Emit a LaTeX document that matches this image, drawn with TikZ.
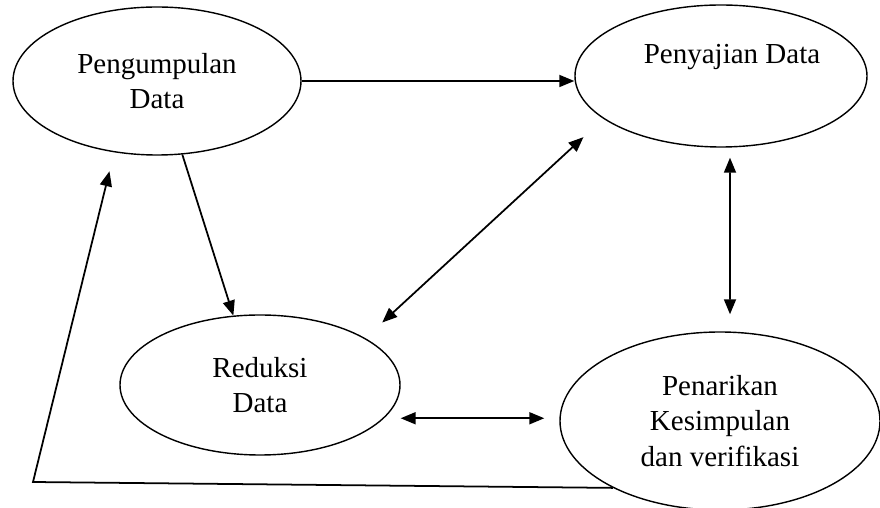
\documentclass[tikz,border=0pt]{standalone}
\usepackage{fontspec}
\setmainfont{Liberation Serif}
\usetikzlibrary{shapes.geometric, arrows.meta}

\begin{document}
\begin{tikzpicture}[
	proses/.style={draw, ellipse, line width=0.8pt, inner sep=0pt, align=center, font=\fontsize{16.5}{20}\selectfont},
	teks/.style={font=\fontsize{16.5}{20}\selectfont},
	panah/.style={line width=1pt, -{Triangle[length=0.3cm, width=0.24cm]}},
	panahdua/.style={line width=1pt, {Triangle[length=0.3cm, width=0.24cm]}-{Triangle[length=0.3cm, width=0.24cm]}}
]
		\useasboundingbox (0,0) rectangle (17.6,10.16);

		\node (kumpul)[proses, minimum width=5.76cm, minimum height=2.96cm] at (3.14,8.54) {Pengumpulan\\Data};
		\node (saji)[proses, minimum width=5.84cm, minimum height=2.84cm] at (14.42,8.64) {};
		\node (sajiteks)[teks] at (14.64,9.02) {Penyajian Data};
		\node (reduksi)[proses, minimum width=5.6cm, minimum height=2.8cm] at (5.2,2.46) {Reduksi\\Data};
		\node (tarik)[proses, minimum width=6.4cm, minimum height=3.56cm] at (14.4,1.74) {Penarikan\\Kesimpulan\\dan verifikasi};
		\coordinate (sudut) at (0.66,0.52);

		\draw[panah] (kumpul.east) -- (kumpul.east -| saji.west);
		\draw[panah] (kumpul.-71) -- (reduksi.111);
		\draw[panahdua, shorten <=0.46cm, shorten >=0.54cm] (reduksi.24) -- (saji.200);
		\draw[panahdua, shorten <=0.2cm, shorten >=0.34cm] ([xshift=0.18cm]saji.south) -- ([xshift=0.2cm]tarik.north);
		\draw[panahdua, shorten <=0.33cm, shorten >=0.3cm] (reduksi.-15) -- (reduksi.-15 -| tarik.west);
		\draw[panah, shorten >=0.39cm] (tarik.212) -- (sudut) -- (kumpul.239);
	\end{tikzpicture}
\end{document}
